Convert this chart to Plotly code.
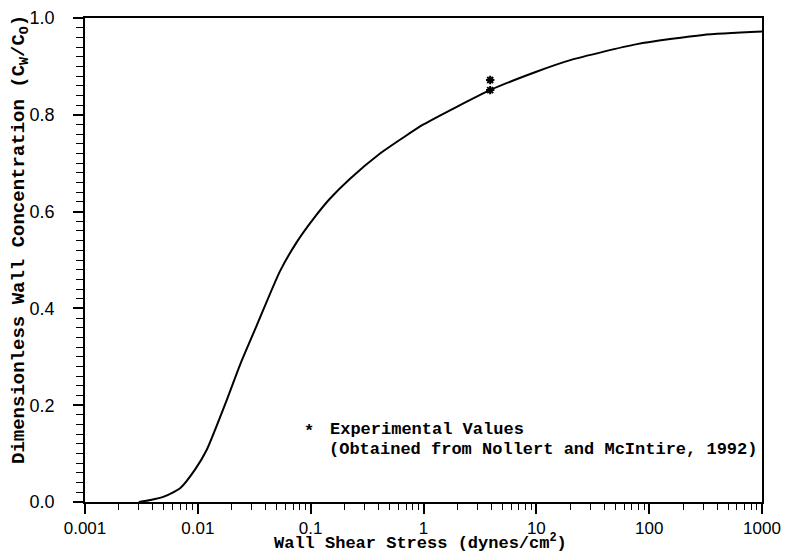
import plotly.graph_objects as go

# Model curve
shear_stress = [0.003, 0.0038, 0.005, 0.007, 0.0095, 0.012, 0.018, 0.0237, 0.0333, 0.0535,
                0.0753, 0.1057, 0.1486, 0.2234, 0.412, 0.643, 1.0, 3.89, 10, 20,
                78, 300, 1000]
wall_conc = [0.0, 0.004, 0.011, 0.029, 0.068, 0.108, 0.210, 0.284, 0.365, 0.477,
             0.537, 0.585, 0.627, 0.668, 0.720, 0.751, 0.780, 0.851, 0.889, 0.913,
             0.946, 0.965, 0.972]

# Experimental values (Nollert and McIntire, 1992)
exp_stress = [3.9, 3.9]
exp_conc = [0.851, 0.872]

x_major = [0.001, 0.01, 0.1, 1, 10, 100, 1000]
x_major_text = ["0.001", "0.01", "0.1", "1", "10", "100", "1000"]
y_major = [0, 0.2, 0.4, 0.6, 0.8, 1.0]
y_major_text = ["0.0", "0.2", "0.4", "0.6", "0.8", "1.0"]
x_minor = [m * 10.0 ** e for e in range(-3, 3) for m in range(2, 10)]
y_minor = [i / 50 for i in range(51) if i % 10 != 0]

mono = "Liberation Mono"
sans = "Liberation Sans"

L, R, T, B = 85, 24, 18, 52
PW, PH = 786 - L - R, 554 - T - B

fig = go.Figure()
fig.add_trace(go.Scatter(x=shear_stress, y=wall_conc, mode="lines",
                         line=dict(color="black", width=2, shape="spline", smoothing=0.6),
                         showlegend=False, hoverinfo="skip"))
fig.add_trace(go.Scatter(x=exp_stress, y=exp_conc, mode="markers",
                         marker=dict(symbol="asterisk", size=7, color="black",
                                     line=dict(color="black", width=2)),
                         showlegend=False))

fig.update_layout(
    width=786, height=554,
    margin=dict(l=L, r=R, t=T, b=B, autoexpand=False),
    paper_bgcolor="white", plot_bgcolor="white",
    xaxis=dict(type="log", range=[-3, 3], tickmode="array", tickvals=x_major, ticktext=x_major_text,
               ticks="outside", ticklen=10, tickwidth=1.6, tickcolor="black",
               minor=dict(tickmode="array", tickvals=x_minor, ticks="outside", ticklen=6,
                          tickwidth=1.3, tickcolor="black", showgrid=False),
               showline=True, linecolor="black", linewidth=1.5, mirror=True,
               showgrid=False, zeroline=False, automargin=False,
               tickfont=dict(family=sans, size=17, color="black")),
    yaxis=dict(range=[0, 1], tickmode="array", tickvals=y_major, ticktext=y_major_text,
               ticks="outside", ticklen=10, tickwidth=1.6, tickcolor="black",
               minor=dict(tickmode="array", tickvals=y_minor, ticks="outside", ticklen=7,
                          tickwidth=1.3, tickcolor="black", showgrid=False),
               ticklabelstandoff=15,
               showline=True, linecolor="black", linewidth=1.5, mirror=True,
               showgrid=False, zeroline=False, automargin=False,
               tickfont=dict(family=sans, size=18, color="black")),
    annotations=[
        dict(xref="paper", yref="paper", x=(420 - L) / PW, y=(554 - B - 554) / PH,
             text="<b>Wall Shear Stress (dynes/cm<sup>2</sup>)</b>",
             showarrow=False, xanchor="center", yanchor="bottom", borderpad=0,
             font=dict(family=mono, size=17, color="black")),
        dict(xref="paper", yref="paper", x=(20 - L) / PW, y=(554 - B - 240) / PH,
             text="<b>Dimensionless Wall Concentration (C<sub>W</sub>/C<sub>O</sub>)</b>",
             textangle=-90, showarrow=False, xanchor="center", yanchor="middle",
             font=dict(family=mono, size=19, color="black")),
        dict(xref="paper", yref="paper", x=(309 - L) / PW, y=(554 - B - 431) / PH,
             text="<b>*</b>", showarrow=False, xanchor="center", yanchor="middle",
             font=dict(family=mono, size=17, color="black")),
        dict(xref="paper", yref="paper", x=(328 - L) / PW, y=(554 - B - 429) / PH,
             text="<b>Experimental Values</b>",
             showarrow=False, xanchor="left", yanchor="middle", align="left",
             font=dict(family=mono, size=17, color="black")),
        dict(xref="paper", yref="paper", x=(327 - L) / PW, y=(554 - B - 449) / PH,
             text="<b>(Obtained from Nollert and McIntire, 1992)</b>",
             showarrow=False, xanchor="left", yanchor="middle", align="left",
             font=dict(family=mono, size=17, color="black")),
    ],
)

fig.write_html("out.html")
